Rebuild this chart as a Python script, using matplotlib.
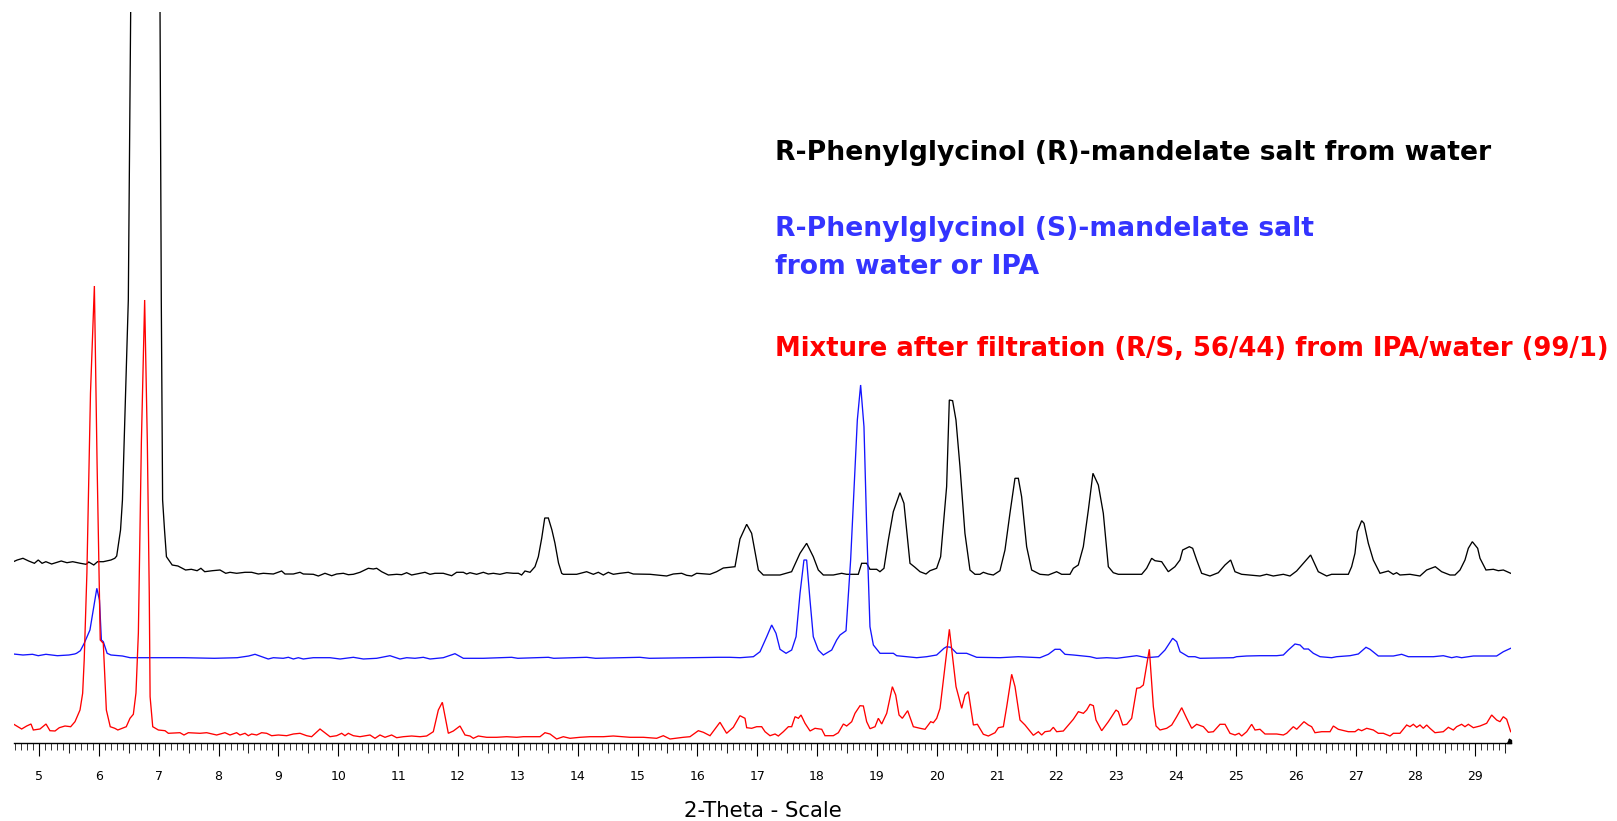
import numpy as np
import matplotlib
matplotlib.use("Agg")
import matplotlib.pyplot as plt
from matplotlib.transforms import blended_transform_factory

# ---------------------------------------------------------------------------
# Powder XRD patterns (2-theta in degrees, intensity in arbitrary units)
# ---------------------------------------------------------------------------

# R-Phenylglycinol (R)-mandelate salt from water
theta_rr = [4.572, 4.636, 4.732, 4.827, 4.923, 4.987, 5.051, 5.115, 5.211, 5.371,
            5.467, 5.563, 5.691, 5.787, 5.831, 5.915, 5.978, 6.074, 6.202, 6.266,
            6.298, 6.362, 6.394, 6.492, 6.532, 6.58, 6.68, 6.8, 6.92, 6.99,
            7.022, 7.043, 7.065, 7.097, 7.129, 7.225, 7.321, 7.449, 7.545, 7.641,
            7.705, 7.769, 7.897, 8.024, 8.12, 8.191, 8.302, 8.442, 8.553, 8.664,
            8.748, 8.915, 9.054, 9.11, 9.249, 9.361, 9.416, 9.583, 9.667, 9.778,
            9.89, 9.973, 10.085, 10.168, 10.252, 10.363, 10.419, 10.502, 10.586, 10.642,
            10.725, 10.837, 10.976, 11.059, 11.143, 11.226, 11.449, 11.533, 11.616, 11.755,
            11.895, 11.978, 12.09, 12.145, 12.201, 12.312, 12.424, 12.507, 12.591, 12.702,
            12.814, 12.925, 13.009, 13.064, 13.12, 13.204, 13.287, 13.343, 13.40, 13.45,
            13.51, 13.57, 13.62, 13.68, 13.733, 13.76, 13.983, 14.15, 14.262, 14.345,
            14.429, 14.512, 14.596, 14.707, 14.847, 14.93, 15.209, 15.487, 15.598, 15.738,
            15.821, 15.905, 15.988, 16.211, 16.322, 16.434, 16.629, 16.712, 16.824, 16.907,
            17.019, 17.102, 17.213, 17.381, 17.575, 17.715, 17.826, 17.937, 18.021, 18.105,
            18.272, 18.411, 18.494, 18.689, 18.745, 18.829, 18.884, 18.996, 19.051, 19.118,
            19.191, 19.274, 19.385, 19.452, 19.553, 19.636, 19.72, 19.82, 19.887, 19.998,
            20.065, 20.165, 20.21, 20.265, 20.321, 20.388, 20.471, 20.555, 20.639, 20.722,
            20.778, 20.861, 20.945, 21.056, 21.14, 21.223, 21.307, 21.363, 21.418, 21.502,
            21.586, 21.725, 21.864, 22.003, 22.087, 22.226, 22.282, 22.365, 22.449, 22.533,
            22.61, 22.7, 22.783, 22.867, 22.95, 23.034, 23.424, 23.507, 23.591, 23.646,
            23.758, 23.869, 23.98, 24.064, 24.109, 24.22, 24.276, 24.343, 24.426, 24.565,
            24.705, 24.816, 24.911, 24.983, 25.094, 25.401, 25.512, 25.623, 25.791, 25.902,
            26.013, 26.125, 26.247, 26.375, 26.515, 26.598, 26.877, 26.932, 26.988, 27.027,
            27.1, 27.139, 27.211, 27.294, 27.406, 27.545, 27.628, 27.684, 27.74, 27.907,
            28.074, 28.185, 28.33, 28.436, 28.576, 28.659, 28.743, 28.826, 28.882, 28.949,
            29.038, 29.077, 29.177, 29.3, 29.383, 29.467, 29.59]
int_rr = [21.3, 23, 24.7, 22, 19.7, 23, 19.7, 21.3, 19, 22,
          20.3, 21.3, 19.7, 18.7, 21, 18, 21.3, 21.3, 23, 24.7,
          27, 53, 83, 283, 571, 1100, 1450, 1500, 1300, 900,
          571, 283, 83, 53, 26.3, 18, 17, 13, 13.7, 12.3,
          14.7, 11.3, 12.3, 13, 9.7, 10.7, 9.7, 10.7, 10.7, 9,
          9.7, 9, 12, 9, 9, 10.7, 9, 8.7, 7, 9.7,
          7.3, 9, 9.7, 8.3, 8.7, 10.7, 12.3, 14.7, 14, 14.7,
          11.3, 8, 8.7, 8.3, 10.3, 8, 10.7, 8.7, 9.7, 9.7,
          7.3, 10.7, 10.7, 9, 10.3, 8.7, 10.7, 9, 9.7, 8.7,
          10.3, 9.7, 9.7, 8, 12, 10.7, 16.3, 26.3, 45, 65,
          65, 53, 40, 20, 9.7, 8.7, 8.7, 11.3, 8.7, 10.7,
          8, 10.7, 8.7, 9.7, 10.7, 9, 8.7, 7, 9, 9.7,
          7.7, 7, 9.7, 8.7, 11.3, 15, 16.3, 44, 58.7, 49.7,
          13, 8, 8, 8, 11.3, 29.7, 39.7, 26.3, 13, 8,
          8, 9.7, 8.7, 8.7, 19.7, 19.7, 13.7, 13.7, 11.3, 14.7,
          43, 71.3, 90.3, 79.7, 19.7, 15.7, 11.3, 9, 12.3, 14.7,
          26.3, 96.3, 183, 182.3, 163, 116.3, 49.7, 13, 8.7, 8.7,
          10.7, 9, 8, 12.3, 33, 69.7, 104.7, 104.7, 86.3, 36.3,
          13, 8.7, 8, 11.3, 8.7, 8.7, 14.7, 18, 36.3, 73,
          109.7, 98, 69.7, 16.3, 10.3, 8.7, 8.7, 14.7, 24.7, 22.3,
          21.3, 11.3, 16.3, 23, 33, 36.3, 34.7, 23, 9.7, 7,
          10.3, 18, 23, 11.3, 8.7, 7, 8.7, 7, 8.7, 7,
          12, 19.7, 28, 11.3, 7, 8.7, 8.7, 16.3, 29.7, 51.3,
          62.3, 59.7, 39.7, 23, 9.7, 12, 8.7, 10.3, 8, 8.7,
          7, 13, 16.3, 11.3, 8, 8, 13, 23, 34.7, 41.3,
          34.7, 24.7, 13, 13.7, 12.3, 13, 9.7]

# R-Phenylglycinol (S)-mandelate salt from water or IPA
theta_rs = [4.572, 4.732, 4.891, 4.987, 5.115, 5.307, 5.499, 5.595, 5.627, 5.691,
            5.755, 5.851, 5.915, 5.966, 6.01, 6.042, 6.074, 6.138, 6.202, 6.394,
            6.522, 6.906, 7.417, 7.929, 8.312, 8.504, 8.609, 8.75, 8.83, 8.916,
            9.08, 9.166, 9.25, 9.333, 9.416, 9.583, 9.862, 10.03, 10.252, 10.419,
            10.642, 10.864, 11.031, 11.143, 11.282, 11.421, 11.533, 11.755, 11.95, 12.09,
            12.424, 12.897, 13.0, 13.51, 13.6, 14.15, 14.3, 15.04, 15.2, 16.35,
            16.54, 16.713, 16.936, 17.047, 17.159, 17.242, 17.314, 17.381, 17.482, 17.576,
            17.649, 17.716, 17.781, 17.826, 17.882, 17.937, 18.021, 18.105, 18.245, 18.328,
            18.384, 18.484, 18.561, 18.673, 18.728, 18.784, 18.829, 18.884, 18.941, 19.052,
            19.275, 19.331, 19.498, 19.665, 19.832, 19.999, 20.121, 20.166, 20.233, 20.333,
            20.5, 20.667, 21.057, 21.363, 21.725, 21.865, 21.976, 22.06, 22.143, 22.283,
            22.561, 22.672, 22.84, 23.007, 23.341, 23.508, 23.703, 23.814, 23.942, 24.009,
            24.065, 24.204, 24.315, 24.399, 24.956, 25.011, 25.179, 25.401, 25.68, 25.791,
            25.875, 25.986, 26.07, 26.136, 26.209, 26.292, 26.404, 26.599, 26.682, 26.905,
            27.044, 27.172, 27.239, 27.378, 27.629, 27.768, 27.879, 28.297, 28.464, 28.604,
            28.687, 28.77, 28.966, 29.355, 29.467, 29.59]
int_rs = [9, 8, 8.7, 7.3, 8.7, 7.3, 8, 9, 9.7, 12.3,
          19.7, 33, 56.3, 74.7, 63, 23, 21.3, 9.7, 8, 7,
          5.3, 5.3, 5.3, 4.7, 5.3, 7, 8.7, 5.7, 4, 5.3,
          4.7, 5.7, 4, 5.3, 4, 5.3, 5.3, 4, 5.7, 4,
          4.7, 7.3, 4, 5.3, 4.7, 5.7, 4, 5.3, 9.3, 4.7,
          4.7, 5.7, 4.7, 5.7, 4.7, 5.7, 4.7, 5.7, 4.7, 5.7,
          5.7, 5.3, 6.3, 11.3, 26.3, 38, 29.7, 13.7, 9.7, 13,
          26.3, 70, 103, 103, 63, 26.3, 13, 8, 13, 23,
          28, 32.3, 103, 243, 278, 236.3, 136.3, 36.3, 18, 9.7,
          9.7, 7.3, 6.3, 5.3, 6.3, 8, 14.7, 16.3, 15.7, 9.7,
          9.7, 5.7, 5.3, 6.3, 5.3, 8.7, 13.7, 13.7, 8.7, 8,
          6.3, 4.7, 5.3, 4.7, 7.3, 5.3, 6.3, 13, 24.7, 21.3,
          11.3, 6.3, 6.3, 4.7, 5.3, 6.3, 7, 7.3, 7.3, 8,
          13, 19, 18, 14, 14, 9.7, 6.3, 5.3, 6.3, 7.3,
          9, 15.7, 13.7, 7, 7, 8.7, 6.3, 6.3, 7.3, 5.3,
          6.3, 5.3, 7, 7, 11.3, 14.7]

# Mixture after filtration (R/S, 56/44) from IPA/water (99/1)
theta_mix = [4.571, 4.71, 4.794, 4.866, 4.905, 5.016, 5.117, 5.183, 5.267, 5.339,
             5.434, 5.529, 5.601, 5.685, 5.729, 5.755, 5.80, 5.86, 5.925, 5.97,
             6.023, 6.074, 6.125, 6.19, 6.266, 6.317, 6.458, 6.52, 6.576, 6.62,
             6.66, 6.71, 6.765, 6.81, 6.842, 6.856, 6.90, 6.994, 7.105, 7.161,
             7.355, 7.422, 7.495, 7.69, 7.801, 7.968, 8.107, 8.191, 8.302, 8.358,
             8.442, 8.497, 8.553, 8.637, 8.72, 8.804, 8.887, 8.999, 9.138, 9.249,
             9.361, 9.472, 9.555, 9.695, 9.862, 9.973, 10.057, 10.112, 10.168, 10.252,
             10.363, 10.53, 10.614, 10.697, 10.781, 10.892, 10.976, 11.087, 11.226, 11.366,
             11.477, 11.588, 11.672, 11.739, 11.839, 11.923, 12.034, 12.118, 12.201, 12.257,
             12.34, 12.48, 12.647, 12.814, 12.981, 13.092, 13.371, 13.454, 13.538, 13.649,
             13.76, 13.872, 14.039, 14.206, 14.429, 14.596, 14.874, 15.097, 15.32, 15.431,
             15.543, 15.766, 15.877, 16.016, 16.1, 16.211, 16.378, 16.489, 16.601, 16.712,
             16.796, 16.824, 16.908, 16.991, 17.075, 17.131, 17.214, 17.298, 17.353, 17.437,
             17.521, 17.576, 17.632, 17.688, 17.732, 17.799, 17.883, 17.966, 18.078, 18.133,
             18.272, 18.356, 18.44, 18.495, 18.579, 18.634, 18.718, 18.774, 18.829, 18.885,
             18.969, 19.024, 19.08, 19.164, 19.258, 19.314, 19.37, 19.425, 19.514, 19.609,
             19.721, 19.804, 19.899, 19.943, 19.999, 20.055, 20.211, 20.322, 20.417, 20.472,
             20.528, 20.612, 20.679, 20.779, 20.862, 20.974, 21.029, 21.113, 21.169, 21.252,
             21.308, 21.391, 21.475, 21.614, 21.698, 21.753, 21.809, 21.893, 21.948, 22.004,
             22.115, 22.282, 22.366, 22.45, 22.505, 22.561, 22.617, 22.661, 22.756, 22.867,
             22.995, 23.034, 23.107, 23.174, 23.257, 23.341, 23.396, 23.452, 23.552, 23.619,
             23.664, 23.731, 23.842, 23.926, 24.009, 24.093, 24.176, 24.26, 24.343, 24.455,
             24.538, 24.622, 24.733, 24.817, 24.9, 24.984, 25.05, 25.095, 25.179, 25.262,
             25.318, 25.401, 25.485, 25.68, 25.791, 25.847, 25.958, 26.014, 26.136, 26.209,
             26.264, 26.32, 26.432, 26.571, 26.627, 26.71, 26.877, 26.989, 27.044, 27.1,
             27.184, 27.295, 27.378, 27.462, 27.573, 27.629, 27.74, 27.852, 27.907, 27.963,
             28.019, 28.074, 28.13, 28.186, 28.241, 28.325, 28.464, 28.548, 28.631, 28.687,
             28.77, 28.826, 28.882, 28.966, 29.077, 29.188, 29.272, 29.355, 29.411, 29.467,
             29.523, 29.59]
int_mix = [19, 14, 17, 19, 13, 14, 19, 12.3, 12, 15.3,
           17, 16.3, 21.3, 33, 49.7, 83, 170, 350, 457, 280,
           103, 99.7, 33, 16.3, 14.7, 13, 16.3, 24.7, 28.7, 50,
           110, 300, 443, 300, 150, 46.3, 16.3, 13, 12.3, 9.7,
           10.3, 8, 10.3, 9.7, 10.3, 8, 10.3, 8, 10.3, 8,
           9.7, 7.3, 9, 8, 10.3, 9.7, 7.3, 8, 7.3, 9,
           9.7, 7.3, 6.3, 14, 6.3, 7.3, 9.7, 7.3, 9.7, 7.3,
           6.3, 8, 4.7, 8, 5.7, 8, 5.3, 6.3, 7, 6.3,
           7, 11.3, 33, 40.7, 9.7, 12, 17, 8, 7, 4.7,
           7, 5.7, 5.7, 6.3, 5.7, 6.3, 6.3, 10.3, 9, 4,
           6.3, 4.7, 5.7, 6.3, 6.3, 7, 5.7, 5.7, 4.7, 7.3,
           4, 5.7, 6.3, 12.3, 10.7, 7.3, 20.7, 9.7, 15.7, 27.3,
           24.7, 15.3, 14.7, 16.3, 16.3, 11.3, 7.3, 9, 7, 11.3,
           16.3, 16.3, 26.3, 24.7, 28, 19.7, 12, 14.7, 13.7, 7.3,
           7.3, 10.3, 19, 17, 21.3, 29.7, 37.3, 37, 21.3, 14.3,
           16.3, 24.7, 19, 29.7, 56.3, 48, 28, 24.7, 32.3, 16.3,
           14.7, 13.7, 21.3, 20.3, 24.7, 34.7, 113.7, 56.3, 34.7, 48,
           51.3, 18, 18.7, 8.7, 7, 10.3, 15.3, 16.3, 36.3, 68.7,
           56.3, 23, 18, 7.7, 11.3, 8, 11.3, 12, 15.7, 11.3,
           12, 23.7, 31.3, 29.7, 33, 38.7, 37.3, 23, 12.3, 21.3,
           33, 31.3, 18, 18.7, 24.7, 54.7, 55.3, 58, 93.7, 36.3,
           17, 13, 14.7, 18, 26.3, 35.3, 24.7, 14.7, 18.7, 16.3,
           10.7, 11.3, 18.7, 18.7, 9.7, 8, 9.7, 7, 11.3, 18.7,
           13, 13.7, 9, 9, 8, 9.7, 16.3, 13.7, 21.3, 18,
           16.3, 10.3, 11.3, 11.3, 17, 13.7, 11.3, 11.3, 13.7, 12.3,
           14.7, 13, 9.7, 9.7, 7, 9.7, 9.7, 18, 16.3, 18.7,
           15.7, 18, 14.7, 18, 14.7, 10.3, 11.3, 15.7, 13, 16.3,
           18.7, 16.3, 18.7, 15.3, 17, 19.7, 28, 23, 21.3, 26.3,
           23.7, 11.3]

# caption lines (text, colour, baseline in pixels from the top, width in pixels)
caption_lines = ["R-Phenylglycinol (R)-mandelate salt from water",
                 "R-Phenylglycinol (S)-mandelate salt",
                 "from water or IPA",
                 "Mixture after filtration (R/S, 56/44) from IPA/water (99/1)"]
caption_colors = ["#000000", "#3434ff", "#3434ff", "#ff0000"]
caption_baselines = [160, 236, 273.5, 356]
caption_widths = [717, 542, 265, 835]

line_colors = ["#000000", "#1414ff", "#ff0000"]
offsets = [160, 80, 0]          # vertical stacking of the patterns
major_ticks = list(range(5, 30))

# ---------------------------------------------------------------------------
W, H = 1617, 821
fig = plt.figure(figsize=(W / 100, H / 100), dpi=100)
ax_left, ax_right, ax_bottom, ax_top = 14, 1510.7, 743, 12
ax = fig.add_axes([ax_left / W, (H - ax_bottom) / H,
                   (ax_right - ax_left) / W, (ax_bottom - ax_top) / H])

patterns = [(theta_rr, int_rr), (theta_rs, int_rs), (theta_mix, int_mix)]
for (tt, ii), off, col in zip(patterns, offsets, line_colors):
    ax.plot(tt, np.asarray(ii) + off, color=col, lw=0.95, solid_joinstyle="miter")

ax.set_xlim(4.582, 29.59)
ax.set_ylim(0, 731)

for side in ("top", "left", "right"):
    ax.spines[side].set_visible(False)
ax.spines["bottom"].set_linewidth(1.0)
ax.spines["bottom"].set_color("black")
ax.set_yticks([])

# tick marks: integers (labelled), 0.1 steps, and half-degree marks
minor = [round(v, 1) for v in np.arange(4.6, 29.6, 0.1)
         if abs(v * 2 - round(v * 2)) > 1e-6]
ax.set_xticks(major_ticks)
ax.set_xticklabels([str(t) for t in major_ticks])
ax.set_xticks(minor, minor=True)
ax.tick_params(axis="x", which="major", direction="out", length=9.4, width=0.8,
               pad=10, labelsize=9, colors="black")
ax.tick_params(axis="x", which="minor", direction="out", length=4.8, width=0.7,
               color="#333333")
halves = [t + 0.5 for t in range(4, 30) if 4.582 < t + 0.5 < 29.59]
trans = blended_transform_factory(ax.transData, ax.transAxes)
ax.vlines(halves, -10 / 731, 0, transform=trans, color="#222222", lw=0.75,
          clip_on=False)

# end marker of the 2-theta axis
ax.plot([1.0], [0.0], transform=ax.transAxes, clip_on=False, color="black",
        marker=[(-6, 0), (0, 0), (0, 4), (-3.5, 6)], markersize=6.5, lw=0)

# axis caption
fig.text(763 / W, 1 - 817 / H, "2-Theta - Scale", ha="center", va="baseline",
         fontsize=15.3, color="black")

# pattern captions, each sized to its measured width
renderer = fig.canvas.get_renderer()
for txt, col, yb, wpx in zip(caption_lines, caption_colors, caption_baselines,
                             caption_widths):
    t = fig.text(775 / W, 1 - yb / H, txt, ha="left", va="baseline", color=col,
                 fontsize=19.2, fontweight="bold")
    w = t.get_window_extent(renderer=renderer).width
    t.set_fontsize(19.2 * min(1.0, wpx / w))

fig.savefig("out.png", dpi=100, facecolor="white")
